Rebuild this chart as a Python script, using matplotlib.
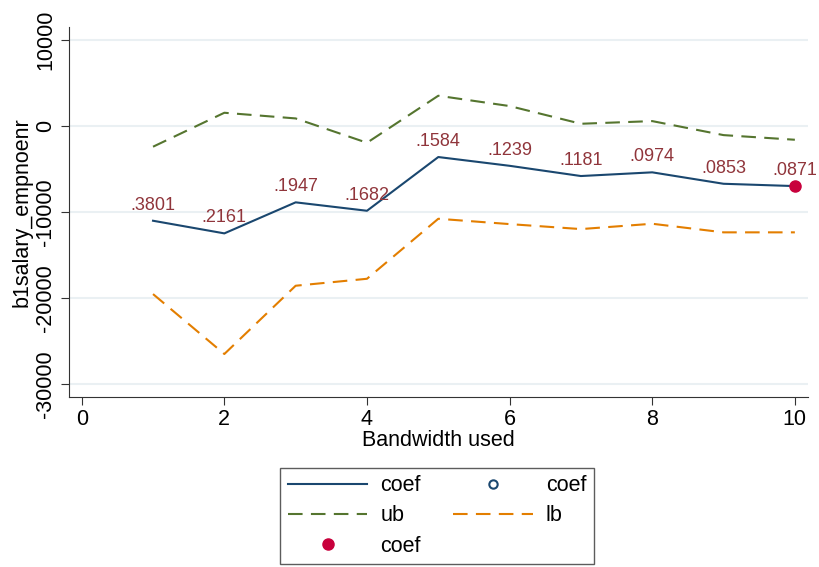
import numpy as np
import matplotlib.pyplot as plt
from matplotlib.lines import Line2D

plt.rcParams['font.family'] = ['Liberation Sans', 'DejaVu Sans']

bandwidth = [1, 2, 3, 4, 5, 6, 7, 8, 9, 10]
coef = [-11010, -12480, -8870, -9850, -3600, -4620, -5810, -5380, -6710, -6980]
ub = [-2400, 1550, 890, -1940, 3530, 2330, 270, 580, -1050, -1590]
lb = [-19540, -26510, -18570, -17760, -10780, -11400, -11980, -11360, -12360, -12360]
pvals = [".3801", ".2161", ".1947", ".1682", ".1584", ".1239", ".1181", ".0974", ".0853", ".0871"]
highlight = [10]

navy = "#1a476f"
green = "#55752f"
orange = "#e37e00"
maroon = "#90353b"
red = "#c8003c"

fig = plt.figure(figsize=(8.2, 5.67), dpi=100)
ax = fig.add_axes([0.084, 0.30, 0.901, 0.652])

ax.plot(bandwidth, coef, color=navy, lw=1.5)
ax.plot(bandwidth, ub, color=green, lw=1.5, dashes=(7, 4))
ax.plot(bandwidth, lb, color=orange, lw=1.5, dashes=(7, 4))
for x, y, t in zip(bandwidth, coef, pvals):
    ax.annotate(t, (x, y), xytext=(0, 5), textcoords='offset points',
                ha='center', va='bottom', color=maroon, fontsize=13)
hx = [x for x in bandwidth if x in highlight]
hy = [y for x, y in zip(bandwidth, coef) if x in highlight]
ax.plot(hx, hy, 'o', color=red, ms=8, zorder=5)

ax.set_xlim(-0.18, 10.18)
ax.set_ylim(-31500, 11500)
ax.set_xticks([0, 2, 4, 6, 8, 10])
ax.set_yticks([-30000, -20000, -10000, 0, 10000])
ax.set_yticklabels(["-30000", "-20000", "-10000", "0", "10000"], rotation=90, va='center')
ax.tick_params(labelsize=15.5, length=6, color="#333333", pad=3)
ax.grid(axis='y', color="#eaf0f3", lw=1.5)
ax.set_axisbelow(True)
for s in ['top', 'right']:
    ax.spines[s].set_visible(False)
ax.spines['left'].set_color("#333333")
ax.spines['bottom'].set_color("#333333")
ax.set_xlabel("Bandwidth used", fontsize=15.5, labelpad=0)
ax.set_ylabel("b1salary_empnoenr", fontsize=15.5, labelpad=2)

handles = [
    Line2D([], [], color=navy, lw=1.5),
    Line2D([], [], color=green, lw=1.5, dashes=(7, 4)),
    Line2D([], [], ls='none', marker='o', color=red, ms=8),
    Line2D([], [], ls='none', marker='o', mfc='none', mec=navy, mew=1.5, ms=6),
    Line2D([], [], color=orange, lw=1.5, dashes=(7, 4)),
]
labels = ["coef", "ub", "coef", "coef", "lb"]
leg = fig.legend(handles, labels, ncol=2, loc='center', bbox_to_anchor=(0.533, 0.09),
                 fontsize=15.5, frameon=True, fancybox=False, edgecolor="#333333",
                 handlelength=3.7, handletextpad=0.6, columnspacing=1.5,
                 borderpad=0.35, borderaxespad=0, labelspacing=0.42)
leg.get_frame().set_linewidth(1.0)

fig.savefig("out.png", dpi=100)
